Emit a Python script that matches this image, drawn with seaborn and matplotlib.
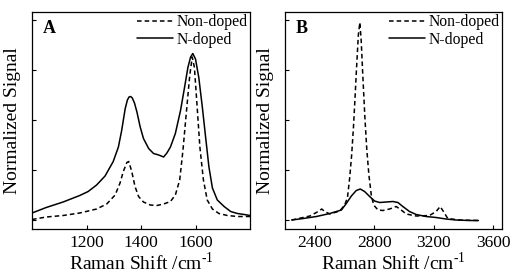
import matplotlib
matplotlib.use("Agg")
import matplotlib.pyplot as plt
import numpy as np
import pandas as pd
import seaborn as sns

# Panel A: D and G bands
a_nd_x = [1000, 1052, 1114, 1175, 1206, 1237, 1268, 1298, 1317, 1329, 1342, 1350,
          1356, 1362, 1368, 1376, 1385, 1397, 1409, 1428, 1446, 1465, 1483, 1495,
          1508, 1526, 1545, 1560, 1572, 1582, 1590, 1600, 1612, 1625, 1637, 1649,
          1662, 1680, 1705, 1729, 1754, 1779, 1800]
a_nd_y = [0.14, 0.25, 0.36, 0.49, 0.57, 0.70, 0.88, 1.17, 1.46, 1.79, 2.23, 2.40,
          2.46, 2.47, 2.44, 2.34, 2.16, 1.86, 1.63, 1.43, 1.33, 1.30, 1.26, 1.34,
          1.46, 1.73, 2.19, 2.66, 3.05, 3.26, 3.33, 3.22, 2.85, 2.26, 1.66, 1.07,
          0.64, 0.40, 0.27, 0.17, 0.13, 0.11, 0.09]
a_un_x = [1000, 1052, 1114, 1175, 1237, 1274, 1305, 1323, 1335, 1348, 1355, 1366,
          1378, 1391, 1409, 1434, 1458, 1483, 1508, 1526, 1542, 1554, 1566, 1579,
          1588, 1596, 1606, 1616, 1629, 1643, 1662, 1686, 1717, 1754, 1800]
a_un_y = [0.01, 0.06, 0.09, 0.14, 0.22, 0.32, 0.50, 0.74, 0.97, 1.15, 1.17, 0.97,
          0.67, 0.47, 0.36, 0.30, 0.29, 0.32, 0.37, 0.50, 0.80, 1.40, 2.13, 2.90,
          3.26, 3.05, 2.26, 1.46, 0.80, 0.40, 0.22, 0.13, 0.09, 0.07, 0.07]

# Panel B: 2D band region
b_nd_x = [2245, 2322, 2411, 2501, 2579, 2612, 2646, 2679, 2706, 2735, 2769, 2802,
          2836, 2880, 2925, 2959, 2992, 3037, 3082, 3149, 3216, 3283, 3350, 3439,
          3500]
b_nd_y = [0.00, 0.03, 0.07, 0.13, 0.20, 0.33, 0.48, 0.59, 0.62, 0.57, 0.47, 0.38,
          0.35, 0.36, 0.37, 0.35, 0.27, 0.17, 0.11, 0.07, 0.05, 0.02, 0.00, -0.01,
          -0.01]
b_un_x = [2245, 2367, 2423, 2447, 2467, 2501, 2568, 2601, 2620, 2635, 2648, 2660,
          2670, 2681, 2693, 2703, 2712, 2722, 2737, 2750, 2764, 2780, 2796, 2825,
          2858, 2903, 2948, 2981, 3015, 3082, 3171, 3216, 3243, 3265, 3294, 3372,
          3500]
b_un_y = [0.00, 0.08, 0.17, 0.22, 0.17, 0.12, 0.18, 0.30, 0.45, 0.85, 1.30, 1.85,
          2.40, 3.05, 3.70, 3.95, 3.60, 2.95, 2.05, 1.40, 0.90, 0.50, 0.30, 0.20,
          0.19, 0.22, 0.27, 0.20, 0.12, 0.08, 0.09, 0.17, 0.27, 0.17, 0.03, 0.00,
          -0.01]

labels = ["Non-doped", "N-doped"]
panels = ["A", "B"]
x_ticks = [[1200, 1400, 1600], [2400, 2800, 3200, 3600]]
x_lims = [(1000, 1800), (2200, 3662)]

sns.set_theme(style="ticks")
plt.rcParams["font.family"] = ["Liberation Serif", "DejaVu Serif"]
plt.rcParams["mathtext.fontset"] = "custom"
plt.rcParams["mathtext.rm"] = "Liberation Serif"
plt.rcParams["text.color"] = "black"
plt.rcParams["axes.labelcolor"] = "black"

fig = plt.figure(figsize=(5.14, 2.74), dpi=100)
ax_a = fig.add_axes([0.0623, 0.1642, 0.4241, 0.792])
ax_b = fig.add_axes([0.5545, 0.1642, 0.4231, 0.792])

data = [
    [(a_un_x, a_un_y), (a_nd_x, a_nd_y)],
    [(b_un_x, b_un_y), (b_nd_x, b_nd_y)],
]

for i, ax in enumerate([ax_a, ax_b]):
    frames = []
    for lab, (xs, ys) in zip(labels, data[i]):
        frames.append(pd.DataFrame({"x": xs, "y": ys, "sample": lab}))
    df = pd.concat(frames, ignore_index=True)
    sns.lineplot(
        data=df, x="x", y="y", style="sample", style_order=labels,
        dashes={"Non-doped": (3, 2), "N-doped": ""},
        color="black", linewidth=1.1, sort=False, estimator=None, ax=ax,
    )
    ax.set_xlim(*x_lims[i])
    ax.set_ylim(-0.18, 4.16)
    ax.set_xticks(x_ticks[i])
    ax.set_yticks([0, 1, 2, 3, 4])
    ax.set_yticklabels([])
    ax.tick_params(direction="in", length=3, width=0.8, labelsize=12.5, pad=4,
                   colors="black")
    for sp in ax.spines.values():
        sp.set_visible(True)
        sp.set_linewidth(0.9)
        sp.set_color("black")
    ax.set_xlabel(r"Raman Shift /cm$^{\text{-1}}$", fontsize=14, labelpad=1)
    ax.set_ylabel("Normalized Signal", fontsize=14, labelpad=4)
    ax.text(0.05, 0.925, panels[i], transform=ax.transAxes, fontsize=13,
            fontweight="bold", va="center", ha="left")
    leg = ax.legend(loc="upper right", frameon=False, fontsize=11.3,
                    handlelength=2.3, handletextpad=0.25, labelspacing=0.1,
                    borderaxespad=0.0, borderpad=0.15)
    for line in leg.get_lines():
        line.set_linewidth(1.1)

fig.savefig("out.png", dpi=100)
